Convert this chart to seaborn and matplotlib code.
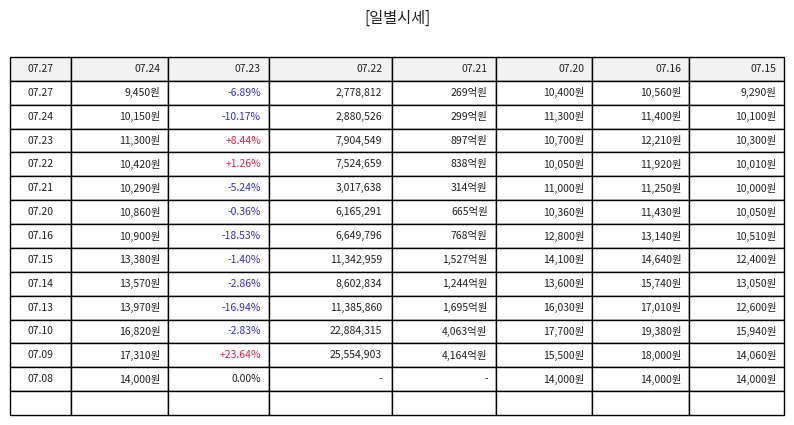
import matplotlib
matplotlib.use("Agg")
import matplotlib.pyplot as plt
import seaborn as sns

sns.set_theme(style="white")
plt.rcParams['font.family'] = ['Noto Sans CJK KR', 'DejaVu Sans']

header = ["07.27", "07.24", "07.23", "07.22", "07.21", "07.20", "07.16", "07.15"]
dates = ["07.27","07.24","07.23","07.22","07.21","07.20","07.16","07.15","07.14","07.13","07.10","07.09","07.08"]
close = ["9,450원","10,150원","11,300원","10,420원","10,290원","10,860원","10,900원","13,380원","13,570원","13,970원","16,820원","17,310원","14,000원"]
change = ["-6.89%","-10.17%","+8.44%","+1.26%","-5.24%","-0.36%","-18.53%","-1.40%","-2.86%","-16.94%","-2.83%","+23.64%","0.00%"]
volume = ["2,778,812","2,880,526","7,904,549","7,524,659","3,017,638","6,165,291","6,649,796","11,342,959","8,602,834","11,385,860","22,884,315","25,554,903","-"]
amount = ["269억원","299억원","897억원","838억원","314억원","665억원","768억원","1,527억원","1,244억원","1,695억원","4,063억원","4,164억원","-"]
open_ = ["10,400원","11,300원","10,700원","10,050원","11,000원","10,360원","12,800원","14,100원","13,600원","16,030원","17,700원","15,500원","14,000원"]
high = ["10,560원","11,400원","12,210원","11,920원","11,250원","11,430원","13,140원","14,640원","15,740원","17,010원","19,380원","18,000원","14,000원"]
low = ["9,290원","10,100원","10,300원","10,010원","10,000원","10,050원","10,510원","12,400원","13,050원","12,600원","15,940원","14,060원","14,000원"]

rows = [list(r) for r in zip(dates, close, change, volume, amount, open_, high, low)]
rows.append([""] * 8)
cells = [header] + rows

bounds = [10, 71, 168, 269, 392, 496, 592, 689, 784]
total = bounds[-1] - bounds[0]
widths = [(bounds[i+1] - bounds[i]) / total for i in range(8)]

fig = plt.figure(figsize=(7.94, 4.25), dpi=100)
ax = fig.add_axes([0, 0, 1, 1])
ax.axis("off")
fig.text(0.5, 1 - 18/425, "[일별시세]", ha="center", va="center", fontsize=11, color="#222222")

tbl = ax.table(cellText=cells, colWidths=widths, cellLoc="right",
               bbox=[10/794, 1 - 415/425, total/794, 358/425])
tbl.auto_set_font_size(False)
tbl.set_fontsize(7.5)
for (r, c), cell in tbl.get_celld().items():
    cell.set_edgecolor("black")
    cell.set_linewidth(1.0)
    cell.PAD = 0.08
    t = cell.get_text()
    t.set_color("#222222")
    if c == 0:
        t.set_ha("center"); cell._loc = "center"
    if r == 0:
        cell.set_facecolor("#f2f2f2")
    if r >= 1 and c == 2 and r - 1 < len(change):
        v = change[r - 1]
        if v.startswith("-"):
            t.set_color("#3333cc")
        elif v.startswith("+"):
            t.set_color("#e0284a")
    if r >= 1 and c == 3 and r - 1 < len(volume) and volume[r - 1] == "-":
        t.set_color("#3333cc")

fig.savefig("out.png", dpi=100)
